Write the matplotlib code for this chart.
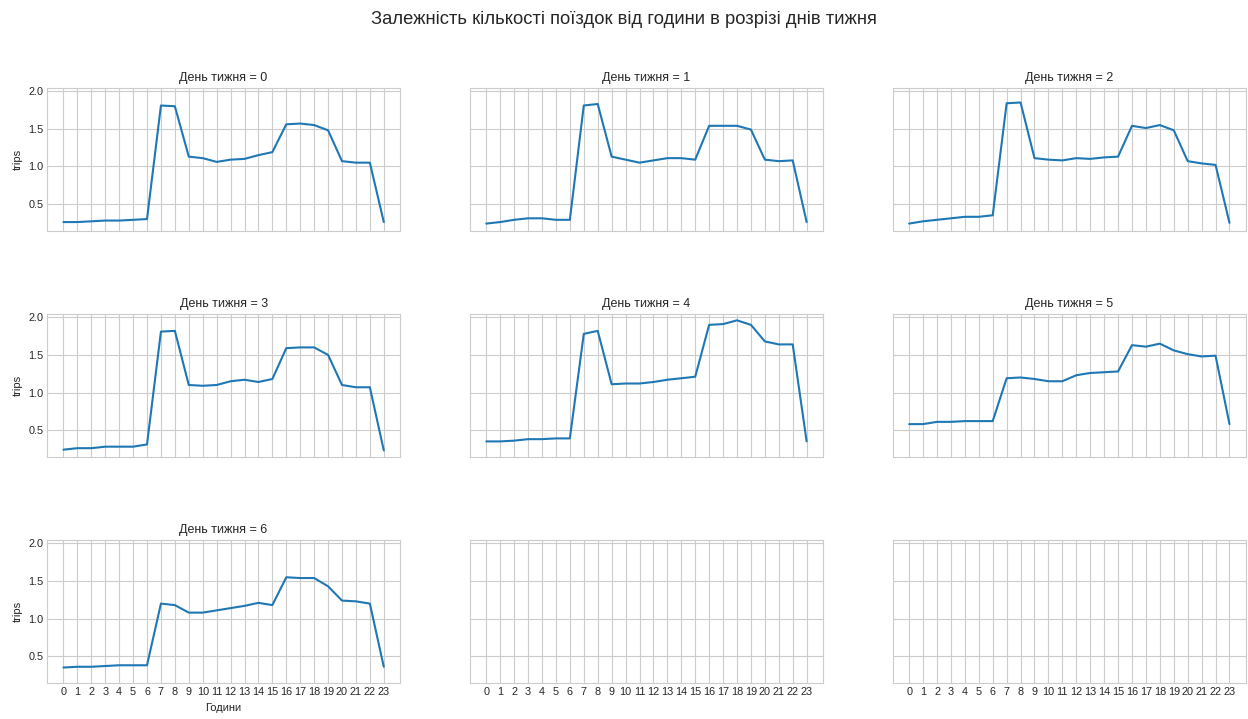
import numpy as np
import pandas as pd
import seaborn as sns
import matplotlib
matplotlib.use("Agg")
import matplotlib.pyplot as plt

hours = list(range(24))

day0 = [0.26, 0.26, 0.27, 0.28, 0.28, 0.29, 0.30, 1.81, 1.80, 1.13, 1.11, 1.06,
        1.09, 1.10, 1.15, 1.19, 1.56, 1.57, 1.55, 1.48, 1.07, 1.05, 1.05, 0.26]
day1 = [0.24, 0.26, 0.29, 0.31, 0.31, 0.29, 0.29, 1.81, 1.83, 1.13, 1.09, 1.05,
        1.08, 1.11, 1.11, 1.09, 1.54, 1.54, 1.54, 1.49, 1.09, 1.07, 1.08, 0.26]
day2 = [0.24, 0.27, 0.29, 0.31, 0.33, 0.33, 0.35, 1.84, 1.85, 1.11, 1.09, 1.08,
        1.11, 1.10, 1.12, 1.13, 1.54, 1.51, 1.55, 1.48, 1.07, 1.04, 1.02, 0.25]
day3 = [0.24, 0.26, 0.26, 0.28, 0.28, 0.28, 0.31, 1.81, 1.82, 1.10, 1.09, 1.10,
        1.15, 1.17, 1.14, 1.18, 1.59, 1.60, 1.60, 1.50, 1.10, 1.07, 1.07, 0.23]
day4 = [0.35, 0.35, 0.36, 0.38, 0.38, 0.39, 0.39, 1.78, 1.82, 1.11, 1.12, 1.12,
        1.14, 1.17, 1.19, 1.21, 1.90, 1.91, 1.96, 1.90, 1.68, 1.64, 1.64, 0.35]
day5 = [0.58, 0.58, 0.61, 0.61, 0.62, 0.62, 0.62, 1.19, 1.20, 1.18, 1.15, 1.15,
        1.23, 1.26, 1.27, 1.28, 1.63, 1.61, 1.65, 1.56, 1.51, 1.48, 1.49, 0.58]
day6 = [0.35, 0.36, 0.36, 0.37, 0.38, 0.38, 0.38, 1.20, 1.18, 1.08, 1.08, 1.11,
        1.14, 1.17, 1.21, 1.18, 1.55, 1.54, 1.54, 1.43, 1.24, 1.23, 1.20, 0.36]

days = [day0, day1, day2, day3, day4, day5, day6]

sns.set_style("whitegrid")
plt.rcParams['font.family'] = ['Liberation Sans', 'DejaVu Sans']

fig, axes = plt.subplots(3, 3, figsize=(12.48, 7.19), dpi=100, sharex=True, sharey=True)
fig.subplots_adjust(left=0.038, right=0.998, top=0.878, bottom=0.05,
                    wspace=0.2, hspace=0.58)

for i, ax in enumerate(axes.flat):
    if i < len(days):
        df = pd.DataFrame({"Години": hours, "trips": days[i]})
        sns.lineplot(data=df, x="Години", y="trips", ax=ax, color="#1f77b4", linewidth=1.5)
        ax.set_title(f"День тижня = {i}", fontsize=9, pad=5)
    ax.set_xticks(hours)
    ax.tick_params(axis="both", labelsize=7.8, length=0, pad=3)
    ax.tick_params(axis="x", labelbottom=(i >= 6))
    ax.set_xlabel("Години" if i == 6 else "", fontsize=8)
    ax.set_ylabel("trips" if i % 3 == 0 else "", fontsize=8)

axes[0, 0].set_xlim(-1.15, 24.15)
axes[0, 0].set_yticks([0.5, 1.0, 1.5, 2.0])

fig.suptitle("Залежність кількості поїздок від години в розрізі днів тижня", fontsize=13.2, y=0.985)
fig.savefig("out.png", dpi=100)
